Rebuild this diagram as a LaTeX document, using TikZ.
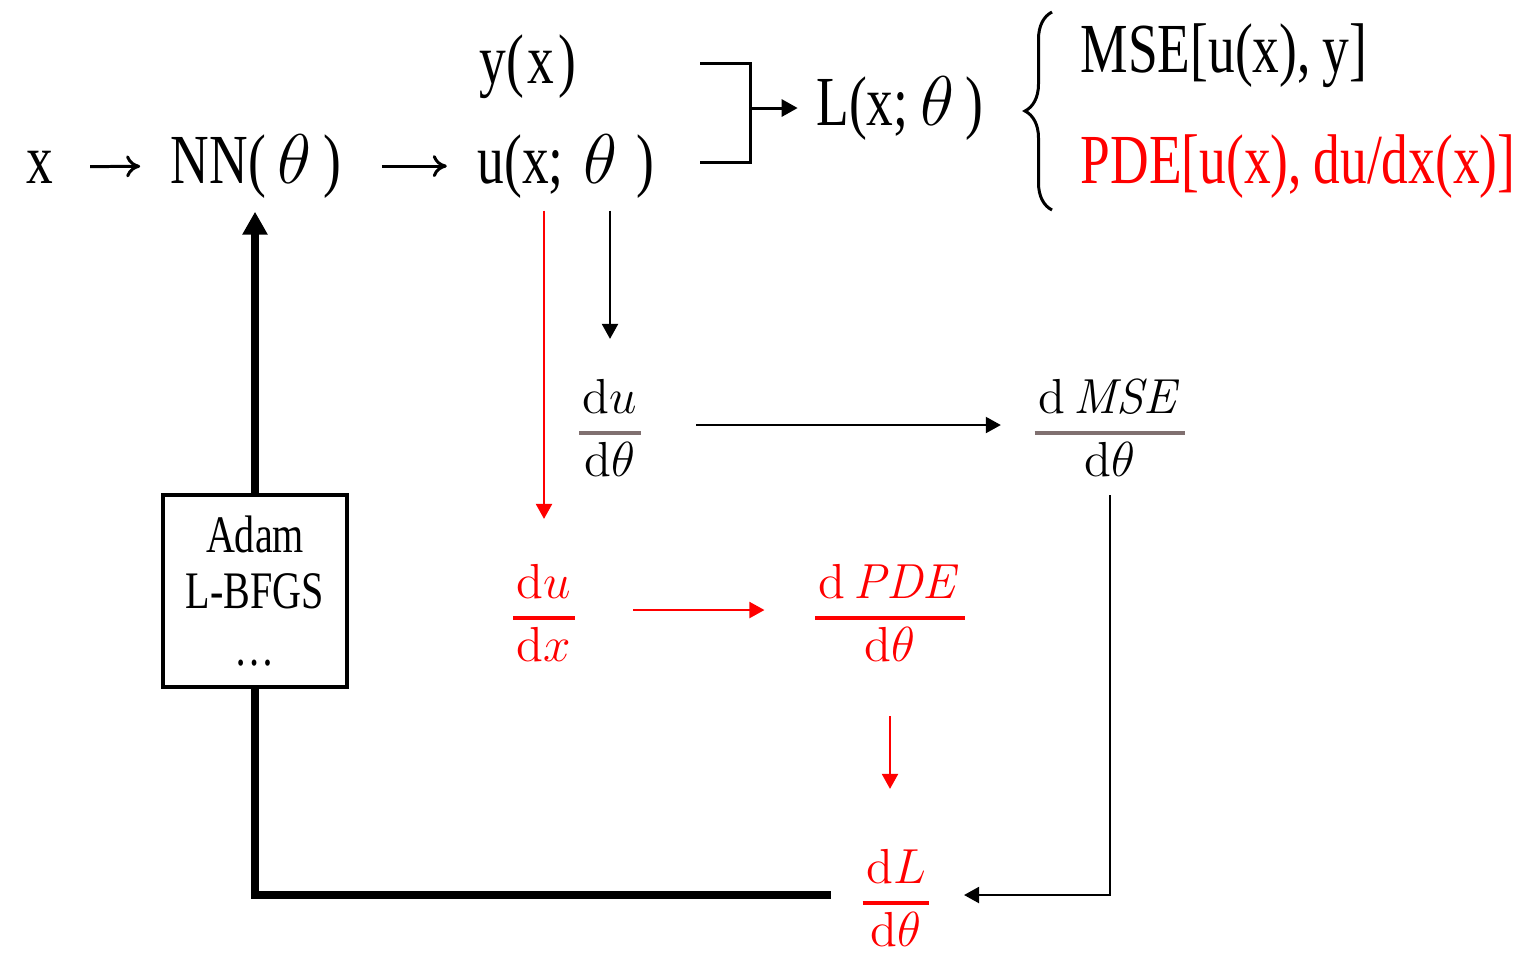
\RequirePackage{fix-cm}
\documentclass[tikz,border=0pt]{standalone}
\usepackage[no-math]{fontspec}
\setmainfont{Liberation Serif}[FakeStretch=0.76]
\usepackage{colortbl}
\usetikzlibrary{arrows.meta,positioning,calc,decorations.pathreplacing}
\definecolor{pdered}{RGB}{255,0,0}
\definecolor{barbrown}{RGB}{128,112,112}
\setlength{\arrayrulewidth}{0.9pt}
% stacked gradient fraction: [bar colour]{top}{bottom}
\newcommand{\gradfrac}[3][barbrown]{{\arrayrulecolor{#1}%
  \begin{tabular}{@{\kern1pt}c@{\kern1pt}}$#2$\\\hline$#3$\end{tabular}}}

\begin{document}
\begin{tikzpicture}[
  x=0.01cm, y=-0.01cm,
  font=\fontsize{20}{24}\selectfont,
  every node/.style={inner sep=0pt},
  txt/.style={anchor=base},
  grad/.style={font=\fontsize{14}{17}\selectfont},
  textarrow/.style={line width=0.85pt, -{To[length=1.4mm,width=2.2mm]}},
  flow/.style={line width=0.6pt, -{Triangle[length=1.5mm,width=1.6mm]}},
  redflow/.style={flow, draw=pdered},
  bracket/.style={line width=0.85pt},
  update/.style={line width=2.3pt},
  optbox/.style={draw, line width=1.3pt, minimum width=1.84cm, minimum height=1.92cm,
    align=center, font=\fontsize{15}{16}\selectfont},
]
\useasboundingbox (0,0) rectangle (1528,953);

% forward pass
\node[txt] (x) at (40,183) {x};
\node[txt] (nn) at (256,183) {NN(\,$\theta$\,)};
\node[txt] (u) at (566,183) {u(x;\;$\theta$\;)};
\node[txt] (y) at (528,83) {y(\kern1pt x\kern1pt)};
\draw[textarrow, shorten <=3.6mm, shorten >=3mm] (x.east) -- (nn.west);
\draw[textarrow, shorten <=4mm, shorten >=3mm] (nn.east) -- (u.west);

% loss
\node[txt] (L) at (900,125) {L(x;\,$\theta$\,)};
\node[txt, anchor=base west] (mse) at (1080,72) {MSE[u(x),\,y]};
\node[txt, anchor=base west, text=pdered] (pde) at (1080,183) {PDE[u(x),\,du/dx(x)]};
\coordinate (ytop) at (700,63);
\coordinate (ubot) at (700,162);
\coordinate (join) at (750,108);
\draw[bracket] (ytop) -| (join);
\draw[bracket] (ubot) -| (join);
\draw[bracket, -{Triangle[length=1.6mm,width=1.7mm]}, shorten >=1.8mm] (join) -- (L.west |- join);
\draw[bracket, decorate, decoration={brace, amplitude=0.27cm}] (1052,210) -- (1052,12);

% gradients
\node[grad] (dudt) at (610,433) {\gradfrac{\mathrm{d}u}{\mathrm{d}\theta}};
\node[grad] (dmse) at (1110,433) {\gradfrac{\mathrm{d}\,\mathit{MSE}}{\mathrm{d}\theta}};
\node[grad, text=pdered] (dudx) at (544,618) {\gradfrac[pdered]{\mathrm{d}u}{\mathrm{d}x}};
\node[grad, text=pdered] (dpde) at (890,618) {\gradfrac[pdered]{\mathrm{d}\,\mathit{PDE}}{\mathrm{d}\theta}};
\node[grad, text=pdered] (dL) at (896,903) {\gradfrac[pdered]{\mathrm{d}L}{\mathrm{d}\theta}};

\draw[flow, shorten <=1.2mm, shorten >=3.2mm] (dudt |- u.south) -- (dudt.north);
\draw[redflow, shorten <=1.2mm, shorten >=3.7mm] (dudx |- u.south) -- (dudx.north);
\draw[flow, shorten <=5.5mm, shorten >=3.3mm] ($(dudt.east)+(0,-8)$) -- ($(dmse.west)+(0,-8)$);
\draw[redflow, shorten <=5.8mm, shorten >=5mm] ($(dudx.east)+(0,-8)$) -- ($(dpde.west)+(0,-8)$);
\draw[redflow, shorten <=3.6mm, shorten >=5.2mm] (dpde.south) -- (dL.north -| dpde);
\draw[flow, shorten >=3.4mm] (dmse.south) |- ($(dL.east)+(0,-8)$);

% optimiser loop
\node[optbox] (opt) at (255,591) {Adam\\L-BFGS\\\ldots};
\draw[update, shorten <=3.1mm] ($(dL.west)+(0,-8)$) -| (opt.south);
\draw[update, -{Triangle[length=2.3mm,width=2.4mm]}, shorten >=1.3mm] (opt.north) -- (opt.north |- nn.south);
\end{tikzpicture}
\end{document}
